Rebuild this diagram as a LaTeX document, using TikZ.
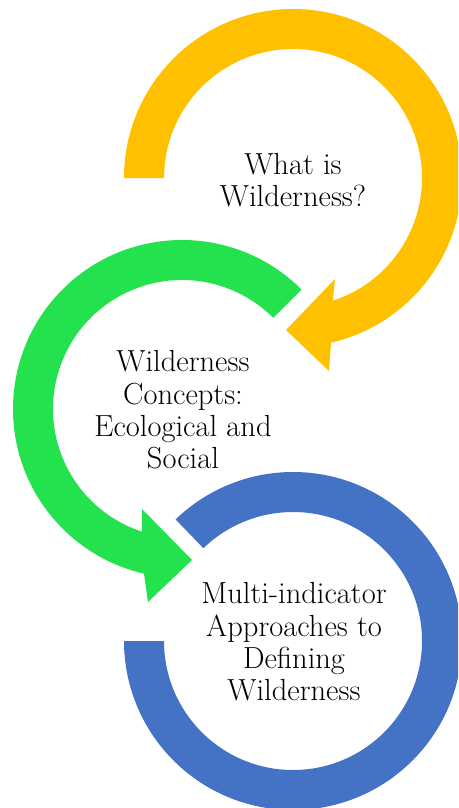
\documentclass[tikz,border=0pt]{standalone}
\usetikzlibrary{calc}
\definecolor{ycol}{HTML}{FFC000}
\definecolor{gcol}{HTML}{23E24D}
\definecolor{bcol}{HTML}{4472C4}
\begin{document}
\begin{tikzpicture}[x=1pt,y=-1pt,
  lbl/.style={align=center,text=black,font=\fontsize{30.5}{32.3}\selectfont,inner sep=0pt}]
\useasboundingbox (0,0) rectangle (458,808);
\clip (0,0) rectangle (458,808);
\coordinate (Y) at (293,178);
\coordinate (G) at (182,409);
\coordinate (B) at (293,641);
% yellow arrow
\begin{scope}[shift={(Y)}]
\fill[ycol] (180:169) arc[start angle=180,end angle=437,radius=169]
  -- (36,193) -- (-7,152) -- (42,101) -- (432:129)
  arc[start angle=432,end angle=180,radius=129] -- cycle;
\end{scope}
% green arrow
\begin{scope}[shift={(G)}]
\fill[gcol] (-45:169) arc[start angle=-45,end angle=-257,radius=169]
  -- (-34,193) -- (10,151) -- (-40,100) -- (-252:129)
  arc[start angle=-252,end angle=-45,radius=129] -- cycle;
\end{scope}
% blue ring
\begin{scope}[shift={(B)}]
\fill[bcol] (226:169) arc[start angle=226,end angle=540,radius=169]
  -- (540:129) arc[start angle=540,end angle=226,radius=129] -- cycle;
\end{scope}
\node[lbl] (t1) at (293,180) {What is\\Wilderness?};
\node[lbl] (t2) at (183,410) {Wilderness\\Concepts:\\Ecological and\\Social};
\node[lbl] (t3) at (294,642) {Multi-indicator\\Approaches to\\Defining\\Wilderness};
\end{tikzpicture}
\end{document}
